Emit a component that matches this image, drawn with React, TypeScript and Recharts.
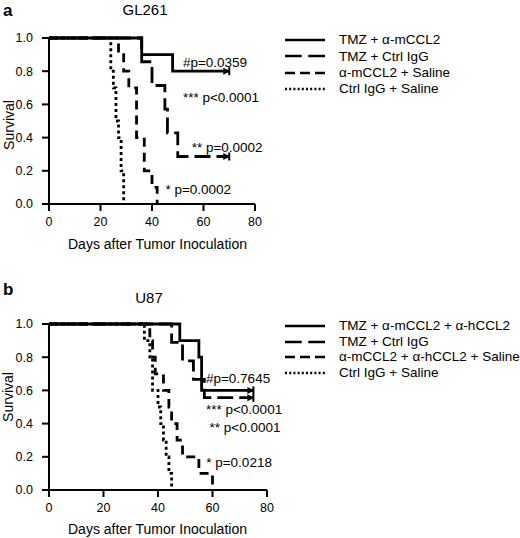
import React from 'react';
import { LineChart, Line, XAxis, YAxis, Legend, ReferenceDot, Label } from 'recharts';

const FONT = '"Liberation Sans", Arial, Helvetica, sans-serif';

const xTicks = [0, 20, 40, 60, 80];
const yTicks = [0, 0.2, 0.4, 0.6, 0.8, 1.0];

// ---------- Panel a: GL261 ----------
const gl261Names = ['TMZ + α-mCCL2', 'TMZ + Ctrl IgG', 'α-mCCL2 + Saline', 'Ctrl IgG + Saline'];
const gl261TmzAnti = [
  { day: 0, surv: 1 }, { day: 36, surv: 0.9 }, { day: 48, surv: 0.8 }, { day: 70, surv: 0.8 },
];
const gl261TmzIgg = [
  { day: 0, surv: 1 }, { day: 36, surv: 0.857 }, { day: 40, surv: 0.714 }, { day: 45, surv: 0.571 },
  { day: 46, surv: 0.429 }, { day: 50, surv: 0.286 }, { day: 70, surv: 0.286 },
];
const gl261AntiSaline = [
  { day: 0, surv: 1 }, { day: 27, surv: 0.9 }, { day: 29, surv: 0.8 }, { day: 31, surv: 0.7 },
  { day: 34, surv: 0.4 }, { day: 37, surv: 0.2 }, { day: 40, surv: 0.1 }, { day: 42, surv: 0 },
];
const gl261IggSaline = [
  { day: 0, surv: 1 }, { day: 24, surv: 0.8 }, { day: 25, surv: 0.7 }, { day: 26, surv: 0.5 },
  { day: 27, surv: 0.4 }, { day: 28, surv: 0.2 }, { day: 29, surv: 0 },
];
const gl261Notes = [
  { text: '#p=0.0359', day: 52, surv: 0.855 },
  { text: '*** p<0.0001', day: 52, surv: 0.645 },
  { text: '** p=0.0002', day: 55.4, surv: 0.342 },
  { text: '* p=0.0002', day: 45.2, surv: 0.087 },
];

// ---------- Panel b: U87 ----------
const u87Names = ['TMZ + α-mCCL2 + α-hCCL2', 'TMZ + Ctrl IgG', 'α-mCCL2 + α-hCCL2 + Saline', 'Ctrl IgG + Saline'];
const u87TmzAnti = [
  { day: 0, surv: 1 }, { day: 48, surv: 0.9 }, { day: 55, surv: 0.8 }, { day: 56, surv: 0.6 }, { day: 75, surv: 0.6 },
];
const u87TmzIgg = [
  { day: 0, surv: 1 }, { day: 45, surv: 0.889 }, { day: 49, surv: 0.778 }, { day: 53, surv: 0.667 },
  { day: 57, surv: 0.556 }, { day: 75, surv: 0.556 },
];
const u87AntiSaline = [
  { day: 0, surv: 1 }, { day: 37, surv: 0.9 }, { day: 38, surv: 0.8 }, { day: 39, surv: 0.7 },
  { day: 42, surv: 0.6 }, { day: 44, surv: 0.5 }, { day: 45, surv: 0.4 }, { day: 47, surv: 0.3 },
  { day: 49, surv: 0.2 }, { day: 55, surv: 0.1 }, { day: 60, surv: 0 },
];
const u87IggSaline = [
  { day: 0, surv: 1 }, { day: 35, surv: 0.9 }, { day: 37, surv: 0.8 }, { day: 38, surv: 0.6 },
  { day: 40, surv: 0.5 }, { day: 41, surv: 0.4 }, { day: 42, surv: 0.3 }, { day: 43, surv: 0.2 },
  { day: 44, surv: 0.1 }, { day: 45, surv: 0 },
];
const u87Notes = [
  { text: '#p=0.7645', day: 57.6, surv: 0.675 },
  { text: '*** p<0.0001', day: 57.6, surv: 0.487 },
  { text: '** p<0.0001', day: 58.9, surv: 0.378 },
  { text: '* p=0.0218', day: 57.7, surv: 0.169 },
];

// ---------- styles ----------
const chartDash = [undefined, '16 6', '9 6', '3 3'];
const legendDash = [undefined, '16.7 6.6', '10 5', '2 2.2'];
const censored = [true, true, false, false];

const endMarker = (lastIndex: number) => (props: any) => {
  const { cx, cy, index } = props;
  if (index !== lastIndex || cx == null || cy == null) return <g key={`d${index}`} />;
  return (
    <g key={`d${index}`}>
      <line x1={cx} y1={cy - 4} x2={cx} y2={cy + 4} stroke="#000" strokeWidth={2} />
      <polygon points={`${cx - 6},${cy - 3.5} ${cx + 1},${cy} ${cx - 6},${cy + 3.5}`} fill="#000" />
    </g>
  );
};

type Cfg = {
  top: number;
  height: number;
  mTop: number;
  mRight: number;
  xH: number;
  xLabelX: number;
  xLabelY: number;
  yLabelX: number;
  yLabelY: number;
  legendTop: number;
  rowH: number;
  series: { day: number; surv: number }[][];
  names: string[];
  notes: { text: string; day: number; surv: number }[];
};

function Panel({ cfg }: { cfg: Cfg }) {
  const renderXLabel = () => (
    <text x={cfg.xLabelX} y={cfg.xLabelY} textAnchor="middle" fontSize={14} fill="#000">
      Days after Tumor Inoculation
    </text>
  );
  const renderYLabel = () => (
    <text
      x={cfg.yLabelX}
      y={cfg.yLabelY}
      textAnchor="middle"
      dominantBaseline="central"
      fontSize={14}
      fill="#000"
      transform={`rotate(-90, ${cfg.yLabelX}, ${cfg.yLabelY})`}
    >
      Survival
    </text>
  );
  const renderLegend = () => (
    <div style={{ fontFamily: FONT, fontSize: 13.5, color: '#000' }}>
      {cfg.names.map((n, i) => (
        <div key={n} style={{ display: 'flex', alignItems: 'center', height: cfg.rowH }}>
          <svg width={40} height={6} style={{ display: 'block' }}>
            <line x1={0} y1={3} x2={40} y2={3} stroke="#000" strokeWidth={2.6} strokeDasharray={legendDash[i]} />
          </svg>
          <span style={{ marginLeft: 14, lineHeight: 1, whiteSpace: 'nowrap' }}>{n}</span>
        </div>
      ))}
    </div>
  );
  return (
    <div style={{ position: 'absolute', left: 0, top: cfg.top, width: 520, height: cfg.height }}>
      <LineChart width={520} height={cfg.height} margin={{ top: cfg.mTop, right: cfg.mRight, bottom: 0, left: 0 }}>
        <XAxis
          type="number"
          dataKey="day"
          domain={[0, 80]}
          ticks={xTicks}
          interval={0}
          height={cfg.xH}
          tickSize={7}
          tickMargin={6.5}
          axisLine={{ stroke: '#000', strokeWidth: 2 }}
          tickLine={{ stroke: '#000', strokeWidth: 2 }}
          tick={{ fill: '#000', fontSize: 12.5 }}
        >
          <Label content={renderXLabel} />
        </XAxis>
        <YAxis
          type="number"
          domain={[0, 1]}
          ticks={yTicks}
          interval={0}
          width={49}
          tickSize={7}
          tickMargin={9}
          tickFormatter={(v: number) => v.toFixed(1)}
          axisLine={{ stroke: '#000', strokeWidth: 2 }}
          tickLine={{ stroke: '#000', strokeWidth: 2 }}
          tick={{ fill: '#000', fontSize: 12.5 }}
        >
          <Label content={renderYLabel} />
        </YAxis>
        {cfg.series.map((s, i) => (
          <Line
            key={cfg.names[i]}
            name={cfg.names[i]}
            data={s}
            dataKey="surv"
            type="stepAfter"
            stroke="#000"
            strokeWidth={2.8}
            strokeDasharray={chartDash[i]}
            dot={censored[i] ? endMarker(s.length - 1) : false}
            activeDot={false}
            isAnimationActive={false}
          />
        ))}
        {cfg.notes.map((n) => (
          <ReferenceDot
            key={n.text}
            x={n.day}
            y={n.surv}
            r={0}
            fill="none"
            stroke="none"
            label={{ value: n.text, position: 'right', offset: 0, fill: '#000', fontSize: 13.5 }}
          />
        ))}
        <Legend
          layout="vertical"
          align="center"
          verticalAlign="middle"
          content={renderLegend}
          wrapperStyle={{ left: 285, top: cfg.legendTop, width: 235 }}
        />
      </LineChart>
    </div>
  );
}

const cfgA: Cfg = {
  top: 0,
  height: 265,
  mTop: 38,
  mRight: 265,
  xH: 61,
  xLabelX: 157.5,
  xLabelY: 248.5,
  yLabelX: 9,
  yLabelY: 125,
  legendTop: 31.8,
  rowH: 16.4,
  series: [gl261TmzAnti, gl261TmzIgg, gl261AntiSaline, gl261IggSaline],
  names: gl261Names,
  notes: gl261Notes,
};

const cfgB: Cfg = {
  top: 270,
  height: 268,
  mTop: 54,
  mRight: 253,
  xH: 48,
  xLabelX: 157.5,
  xLabelY: 263.5,
  yLabelX: 7.5,
  yLabelY: 127,
  legendTop: 48.2,
  rowH: 15.6,
  series: [u87TmzAnti, u87TmzIgg, u87AntiSaline, u87IggSaline],
  names: u87Names,
  notes: u87Notes,
};

export default function App() {
  return (
    <div style={{ position: 'absolute', left: 0, top: 0, width: 520, height: 538, background: '#fff', fontFamily: FONT }}>
      <Panel cfg={cfgA} />
      <Panel cfg={cfgB} />
      <svg width={520} height={538} style={{ position: 'absolute', left: 0, top: 0, pointerEvents: 'none' }}>
        <text x={3} y={16} fontSize={17} fontWeight="bold" fill="#000">a</text>
        <text x={145} y={15} fontSize={15} textAnchor="middle" fill="#000">GL261</text>
        <text x={3} y={295} fontSize={17} fontWeight="bold" fill="#000">b</text>
        <text x={149} y={303} fontSize={15} textAnchor="middle" fill="#000">U87</text>
      </svg>
    </div>
  );
}
